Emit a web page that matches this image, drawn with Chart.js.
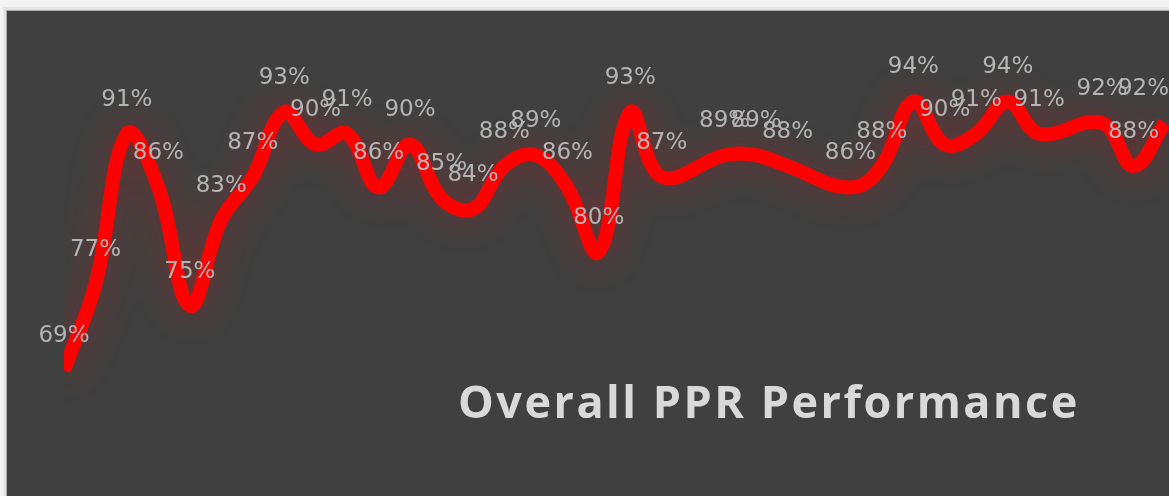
<!DOCTYPE html>
<html>
<head>
<meta charset="utf-8">
<title>Overall PPR Performance</title>
<script src="https://cdn.jsdelivr.net/npm/chart.js@4/dist/chart.umd.min.js"></script>
<style>
    html, body { margin: 0; padding: 0; background: #f3f3f3; overflow: hidden; }
    #frame {
        position: absolute; left: 6px; top: 10px; width: 1170px; height: 490px;
        background: #404040;
        border-top: 1px solid #a9a9a9; border-left: 1px solid #a9a9a9;
        box-shadow: 0 0 0 3px #e4e4e4;
    }
    #wrap { position: absolute; left: 0; top: 0; width: 1169px; height: 496px; }
</style>
</head>
<body>
<div id="frame"></div>
<div id="wrap"><canvas id="chartPPR"></canvas></div>
<script>
// Overall PPR Performance — smoothed red line with glow, value labels above points

// periods (the axis itself is hidden in the original); null = no reading that period
var periods = [];
for (var p = 1; p <= 36; p++) periods.push('P' + p);

var performance = [69, 77, 91, 86, 75, 83, 87, 93, 90, 91, 86, 90, 85, 84, 88, 89, 86, 80,
                   93, 87, null, 89, 89, 88, null, 86, 88, 94, 90, 91, 94, 91, null, 92, 88, 92];

var yMin = 60;
var yMax = 100;
var chartTitle = 'Overall PPR Performance';

// soft red halo round the line
var glowPlugin = {
    id: 'glow',
    beforeDatasetDraw: function(chart) {
        var ctx = chart.ctx;
        ctx.save();
        ctx.shadowColor = 'rgba(255, 0, 0, 0.3)';
        ctx.shadowBlur = 36;
    },
    afterDatasetDraw: function(chart) {
        chart.ctx.restore();
    }
};

// data labels placed above each point, kept inside the canvas
var labelPlugin = {
    id: 'pointLabels',
    afterDatasetsDraw: function(chart) {
        var ctx = chart.ctx;
        var meta = chart.getDatasetMeta(0);
        ctx.save();
        ctx.font = '23px "DejaVu Sans", Verdana, sans-serif';
        ctx.fillStyle = '#b4b4b4';
        ctx.textAlign = 'center';
        ctx.textBaseline = 'middle';
        meta.data.forEach(function(pt, i) {
            var v = performance[i];
            if (v === null) return;
            var txt = v + '%';
            var w = ctx.measureText(txt).width;
            var x = Math.min(pt.x, chart.width - w / 2);
            x = Math.max(x, 8 + w / 2);
            ctx.fillText(txt, x, pt.y - 34);
        });
        ctx.restore();
    }
};

// title sits inside the plot, lower right
var titlePlugin = {
    id: 'insideTitle',
    afterDraw: function(chart) {
        var ctx = chart.ctx;
        ctx.save();
        ctx.font = 'bold 45px "Open Sans", sans-serif';
        var w = ctx.measureText(chartTitle).width;
        var spacing = Math.max(0, (619 - w) / (chartTitle.length - 1));
        if ('letterSpacing' in ctx) ctx.letterSpacing = spacing.toFixed(1) + 'px';
        ctx.fillStyle = '#d9d9d9';
        ctx.textAlign = 'left';
        ctx.textBaseline = 'alphabetic';
        ctx.fillText(chartTitle, 458, 418);
        ctx.restore();
    }
};

document.addEventListener('DOMContentLoaded', function() {
    var ctxPPR = document.getElementById('chartPPR');
    new Chart(ctxPPR.getContext('2d'), {
        type: 'line',
        data: {
            labels: periods,
            datasets: [{
                label: chartTitle,
                data: performance,
                borderColor: '#ff0000',
                borderWidth: 14,
                borderCapStyle: 'butt',
                borderJoinStyle: 'round',
                tension: 0.4,
                spanGaps: true,
                pointRadius: 0,
                pointHoverRadius: 0,
                fill: false,
                clip: { left: 0, top: 0, right: 5, bottom: 0 }
            }]
        },
        options: {
            responsive: true,
            maintainAspectRatio: false,
            animation: false,
            layout: {
                padding: { left: 64, right: 4, top: 37, bottom: 29 }
            },
            plugins: {
                legend: { display: false },
                tooltip: { enabled: false }
            },
            scales: {
                x: { display: false },
                y: { display: false, min: yMin, max: yMax }
            }
        },
        plugins: [glowPlugin, labelPlugin, titlePlugin]
    });
});
</script>
</body>
</html>
